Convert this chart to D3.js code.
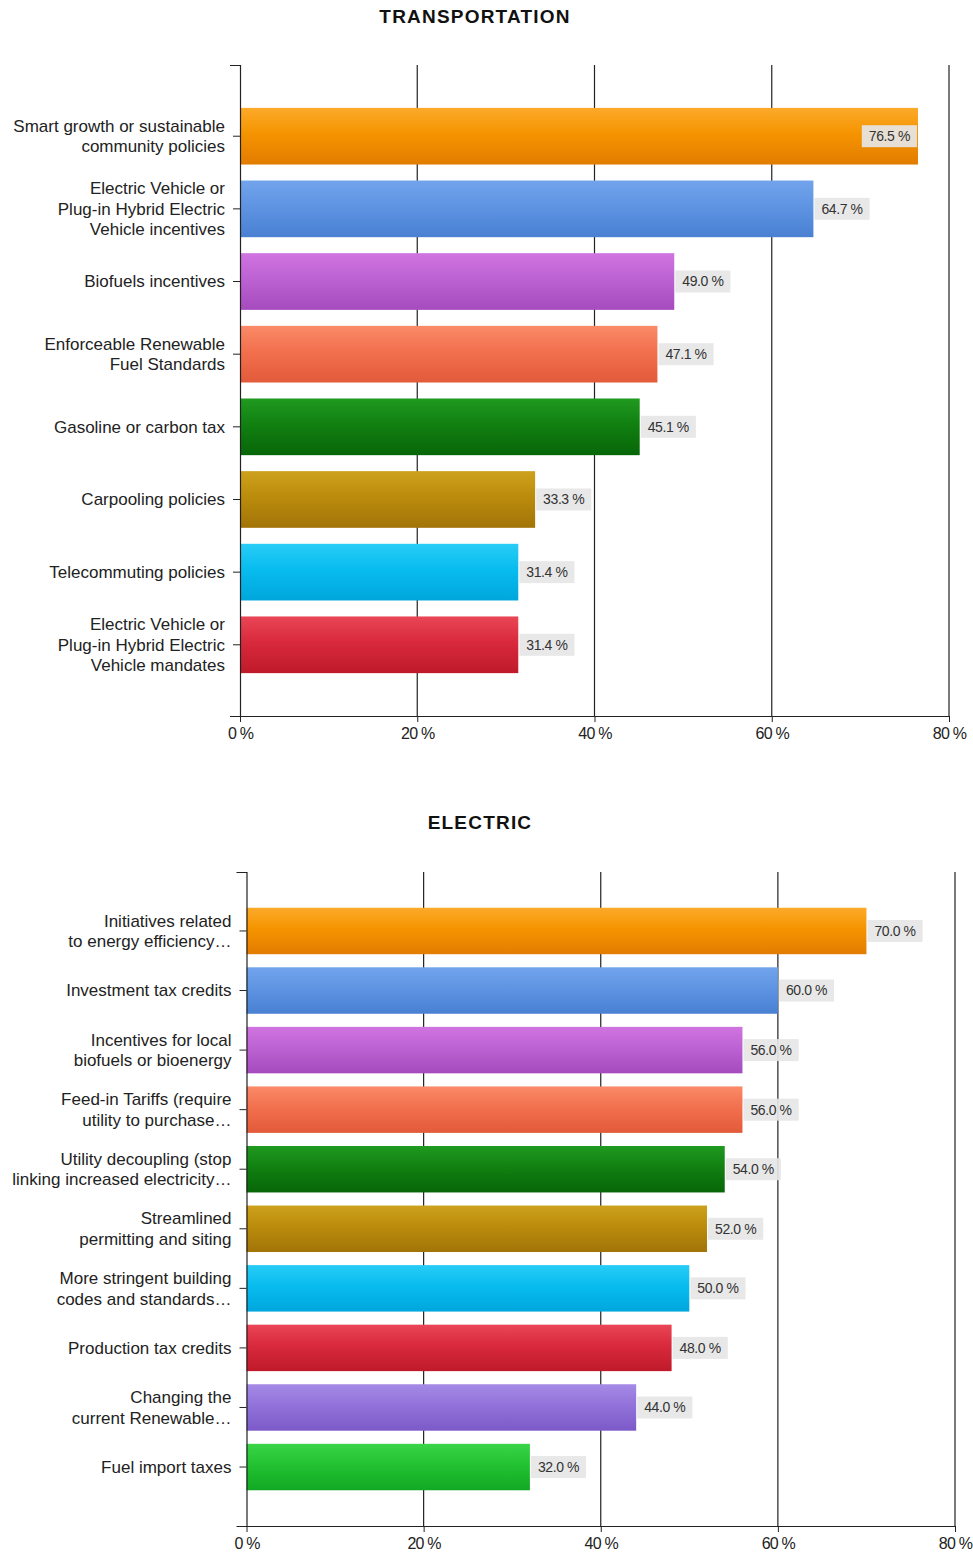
<!DOCTYPE html>
<html>
<head>
<meta charset="utf-8">
<script src="https://cdn.jsdelivr.net/npm/d3@7"></script>
<style>
  body { margin: 0; background: #fff; }
  svg { display: block; }
</style>
</head>
<body>
<svg id="chart"></svg>
<script>
// data
const transportLabels = [
  "Smart growth or sustainable\ncommunity policies",
  "Electric Vehicle or\nPlug-in Hybrid Electric\nVehicle incentives",
  "Biofuels incentives",
  "Enforceable Renewable\nFuel Standards",
  "Gasoline or carbon tax",
  "Carpooling policies",
  "Telecommuting policies",
  "Electric Vehicle or\nPlug-in Hybrid Electric\nVehicle mandates"
];
const transportValues = [76.5, 64.7, 49.0, 47.1, 45.1, 33.3, 31.4, 31.4];

const electricLabels = [
  "Initiatives related\nto energy efficiency…",
  "Investment tax credits",
  "Incentives for local\nbiofuels or bioenergy",
  "Feed-in Tariffs (require\nutility to purchase…",
  "Utility decoupling (stop\nlinking increased electricity…",
  "Streamlined\npermitting and siting",
  "More stringent building\ncodes and standards…",
  "Production tax credits",
  "Changing the\ncurrent Renewable…",
  "Fuel import taxes"
];
const electricValues = [70.0, 60.0, 56.0, 56.0, 54.0, 52.0, 50.0, 48.0, 44.0, 32.0];

const xTicks = [0, 20, 40, 60, 80];

// bar colours: [top, middle, bottom]
const barColors = [
  ["#fcaa2a", "#f59400", "#e27c00"],
  ["#72a4ec", "#5e94e2", "#4a80d2"],
  ["#cf74e0", "#bd62d2", "#a64bbe"],
  ["#fa8a68", "#f2704e", "#e25a3a"],
  ["#209a20", "#118011", "#076607"],
  ["#cda11c", "#bb8c0c", "#a27408"],
  ["#28ccf6", "#08bcef", "#00a6dc"],
  ["#ea4656", "#d82a3c", "#bf1a2a"],
  ["#a58ae6", "#9272da", "#7b5ac8"],
  ["#3ad448", "#22c232", "#12a824"]
];

const W = 973, H = 1552;
const svg = d3.select("#chart").attr("width", W).attr("height", H);
const defs = svg.append("defs");

barColors.forEach((c, i) => {
  const g = defs.append("linearGradient")
    .attr("id", "grad" + i)
    .attr("x1", 0).attr("y1", 0).attr("x2", 0).attr("y2", 1);
  g.append("stop").attr("offset", "0%").attr("stop-color", c[0]);
  g.append("stop").attr("offset", "45%").attr("stop-color", c[1]);
  g.append("stop").attr("offset", "100%").attr("stop-color", c[2]);
});

const labelFont = "'Liberation Sans', Arial, sans-serif";

function drawChart(opts) {
  const { title, titleX, titleY, labels, values, x0, x1, top, bottom, padOuter } = opts;

  const x = d3.scaleLinear().domain([0, 80]).range([x0, x1]);
  const y = d3.scaleBand()
    .domain(labels)
    .range([top, bottom])
    .paddingInner(0.22)
    .paddingOuter(padOuter);

  svg.append("text")
    .attr("x", titleX)
    .attr("y", titleY)
    .attr("text-anchor", "middle")
    .style("font-family", labelFont)
    .style("font-weight", "bold")
    .style("font-size", "19px")
    .style("letter-spacing", "1.2px")
    .attr("fill", "#111")
    .text(title);

  // vertical grid lines
  svg.append("g")
    .selectAll("line")
    .data(xTicks.slice(1))
    .join("line")
    .attr("x1", d => x(d)).attr("x2", d => x(d))
    .attr("y1", top).attr("y2", bottom)
    .attr("stroke", "#222")
    .attr("stroke-width", 1.2);

  // bars
  svg.append("g")
    .selectAll("rect")
    .data(values)
    .join("rect")
    .attr("x", x(0))
    .attr("y", (d, i) => y(labels[i]))
    .attr("width", d => x(d) - x(0))
    .attr("height", y.bandwidth())
    .attr("fill", (d, i) => `url(#grad${i})`);

  // value labels
  const vl = svg.append("g")
    .selectAll("g")
    .data(values)
    .join("g");
  vl.each(function(d, i) {
    const g = d3.select(this);
    const cy = y(labels[i]) + y.bandwidth() / 2;
    const t = g.append("text")
      .attr("y", cy)
      .attr("dy", "0.35em")
      .style("font-family", labelFont)
      .style("font-size", "14px")
      .style("letter-spacing", "-0.4px")
      .attr("fill", "#333")
      .text(d.toFixed(1) + " %");
    const tw = t.node().getComputedTextLength();
    const bw = tw + 14;
    const end = x(d);
    const bx = end + bw > x1 ? end - bw - 1 : end + 1;
    g.insert("rect", "text")
      .attr("x", bx)
      .attr("y", cy - 11)
      .attr("width", bw)
      .attr("height", 22)
      .attr("fill", "#e6e6e6")
      .attr("opacity", 0.92);
    t.attr("x", bx + 7);
  });

  // y axis
  const yAxis = svg.append("g")
    .attr("transform", `translate(${x0},0)`)
    .call(d3.axisLeft(y).tickSize(7).tickSizeOuter(10).tickFormat(""));
  yAxis.select(".domain").attr("stroke", "#222").attr("stroke-width", 1.2);
  yAxis.selectAll(".tick line").attr("stroke", "#222");

  // category labels (multi-line)
  const lab = svg.append("g")
    .selectAll("text")
    .data(labels)
    .join("text")
    .attr("text-anchor", "end")
    .style("font-family", labelFont)
    .style("font-size", "17px")
    .attr("fill", "#222");
  lab.each(function(d) {
    const lines = d.split("\n");
    const cy = y(d) + y.bandwidth() / 2;
    const lh = 20.5;
    const t = d3.select(this);
    lines.forEach((ln, k) => {
      t.append("tspan")
        .attr("x", x0 - 15)
        .attr("y", cy + (k - (lines.length - 1) / 2) * lh)
        .attr("dy", "0.35em")
        .text(ln);
    });
  });

  // x axis
  const xAxis = svg.append("g")
    .attr("transform", `translate(0,${bottom})`)
    .call(d3.axisBottom(x).tickValues(xTicks).tickSize(6).tickSizeOuter(0).tickFormat(d => d + " %"));
  xAxis.select(".domain").attr("stroke", "#222").attr("stroke-width", 1.2);
  xAxis.selectAll(".tick line").attr("stroke", "#222");
  xAxis.selectAll(".tick text")
    .style("font-family", labelFont)
    .style("font-size", "16px")
    .style("letter-spacing", "-0.8px")
    .attr("fill", "#222")
    .attr("y", 12);
}

drawChart({
  title: "TRANSPORTATION", titleX: 475, titleY: 23,
  labels: transportLabels, values: transportValues,
  x0: 240, x1: 949, top: 65, bottom: 716, padOuter: 0.59
});

drawChart({
  title: "ELECTRIC", titleX: 480, titleY: 829,
  labels: electricLabels, values: electricValues,
  x0: 246.5, x1: 955, top: 872, bottom: 1526, padOuter: 0.6
});
</script>
</body>
</html>
